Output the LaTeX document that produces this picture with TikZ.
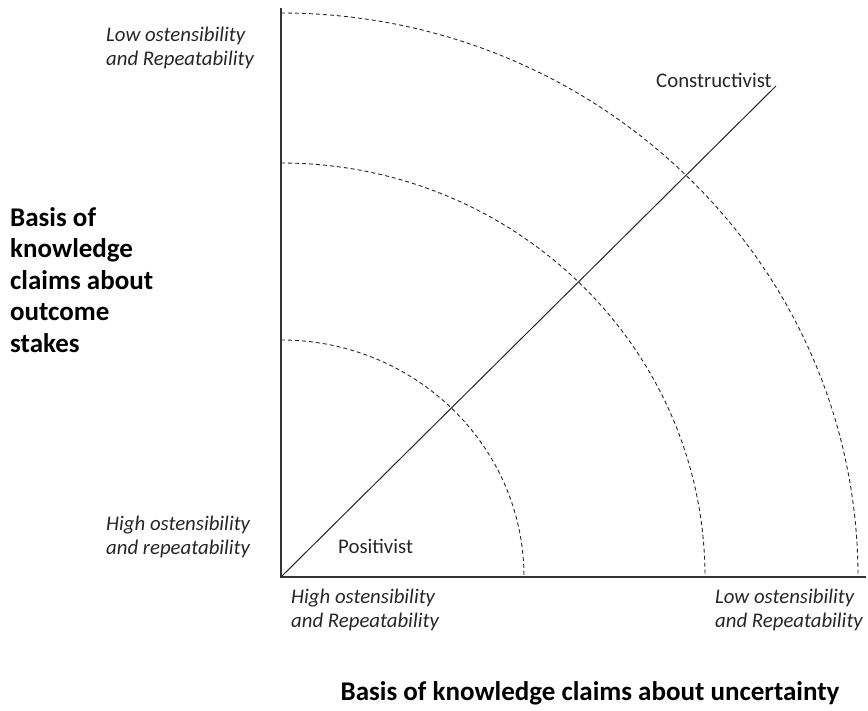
\documentclass[tikz,border=0pt]{standalone}
\usepackage{fontspec}
\setmainfont{Carlito}
\begin{document}
\begin{tikzpicture}[x=1pt,y=-1pt,
  axis/.style={line width=1.3pt,black!80},
  ring/.style={line width=0.9pt,dash pattern=on 4pt off 3pt,black!85},
  diag/.style={line width=1pt,black!85},
  itlab/.style={inner sep=0pt,font=\fontsize{20.8}{23.5}\selectfont\itshape,text=black!85},
  plab/.style={inner sep=0pt,font=\fontsize{20.8}{23.5}\selectfont,text=black!85},
  blab/.style={inner sep=0pt,font=\fontsize{27}{31.5}\selectfont\bfseries,align=left}]
\useasboundingbox (0,0) rectangle (868,711);
\coordinate (O) at (281,577);
\coordinate (Ytop) at (281,8);
\coordinate (Xend) at (866,577);
\coordinate (Dend) at (776,86);
% rings
\draw[ring] (281,340) arc[start angle=90,end angle=0,x radius=243,y radius=-237];
\draw[ring] (281,163) arc[start angle=90,end angle=0,x radius=424,y radius=-414];
\draw[ring] (281,13) arc[start angle=90,end angle=0,x radius=577,y radius=-564];
% axes
\draw[axis] (Ytop) -- (O) -- (Xend);
\draw[diag] (O) -- (Dend);
% labels
\node[itlab,anchor=west,align=left] (lo) at (106,48) {Low ostensibility\\and Repeatability};
\node[itlab,anchor=west,align=left] (hi) at (106,537) {High ostensibility\\and repeatability};
\node[itlab,anchor=west,align=left] (hx) at (291,610) {High ostensibility\\and Repeatability};
\node[itlab,anchor=east,align=left] (lx) at (863,610) {Low ostensibility\\and Repeatability};
\node[plab,anchor=west] (con) at (656,80) {Constructivist};
\node[plab,anchor=west] (pos) at (338,546) {Positivist};
\node[blab,anchor=west] (yl) at (10,280) {Basis of\\knowledge\\claims about\\outcome\\stakes};
\node[blab] (xl) at (590,693) {Basis of knowledge claims about uncertainty};
\end{tikzpicture}
\end{document}
